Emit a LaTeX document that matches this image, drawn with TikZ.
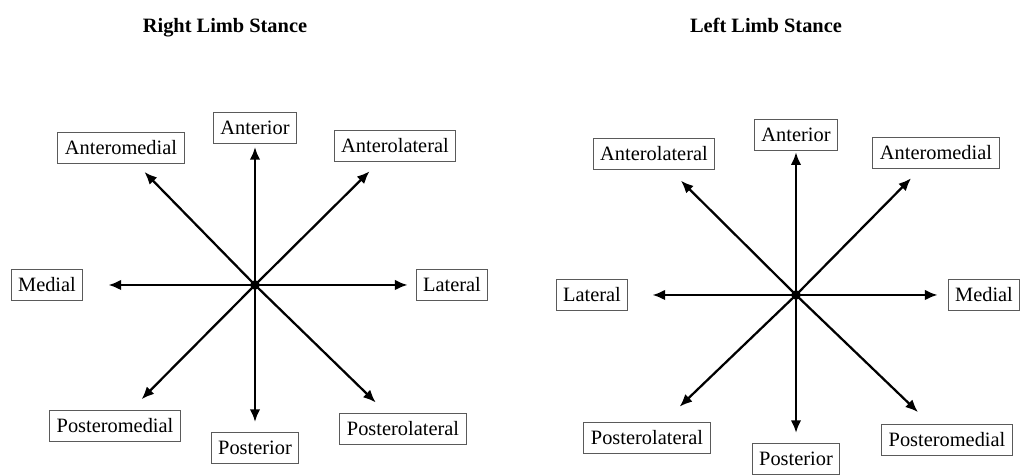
\documentclass[tikz,border=0pt]{standalone}
\usepackage{fontspec}
\setmainfont{Liberation Serif}
\usepackage{tikz}
\usetikzlibrary{arrows.meta}
\definecolor{BoxGrey}{RGB}{90, 90, 90}

\begin{document}
\begin{tikzpicture}[>=Latex,
  lbl/.style={draw=BoxGrey, line width=0.7pt, fill=white, inner xsep=5pt,
              minimum height=0.78cm, font=\fontsize{14.5}{17}\selectfont},
  ttl/.style={anchor=base, font=\fontsize{14.5}{17}\selectfont\bfseries},
  arr/.style={-{Latex[length=9pt,width=7.5pt]}, line width=1.6pt},
  hub/.style={circle, fill=black, inner sep=0pt, minimum size=2.4mm}]

  \useasboundingbox (0,0) rectangle (25.525,11.9);

  % right limb stance
  \node[ttl] (rtitle) at (5.625,11.075) {Right Limb Stance};
  \node[hub] (rc) at (6.375,4.775) {};
  \node[lbl] (rant)     at (6.375,8.70)  {Anterior};
  \node[lbl] (rantmed)  at (3.025,8.20)  {Anteromedial};
  \node[lbl] (rantlat)  at (9.875,8.25)  {Anterolateral};
  \node[lbl] (rmed)     at (1.175,4.775) {Medial};
  \node[lbl] (rlat)     at (11.30,4.775) {Lateral};
  \node[lbl] (rpostmed) at (2.875,1.25)  {Posteromedial};
  \node[lbl] (rpost)    at (6.375,0.70)  {Posterior};
  \node[lbl] (rpostlat) at (10.075,1.175){Posterolateral};
  \foreach \n/\s in {ant/0.075, post/0.25, med/0.625, lat/0.2,
                     antmed/0.275, antlat/0.325, postmed/0.375, postlat/0.375}
    \draw[arr, shorten >=\s cm] (rc.center) -- (r\n);

  % left limb stance
  \node[ttl] (ltitle) at (19.15,11.075) {Left Limb Stance};
  \node[hub] (lc) at (19.90,4.525) {};
  \node[lbl] (lant)     at (19.90,8.525) {Anterior};
  \node[lbl] (lantlat)  at (16.35,8.05)  {Anterolateral};
  \node[lbl] (lantmed)  at (23.40,8.075) {Anteromedial};
  \node[lbl] (llat)     at (14.80,4.525) {Lateral};
  \node[lbl] (lmed)     at (24.60,4.525) {Medial};
  \node[lbl] (lpostlat) at (16.175,0.95) {Posterolateral};
  \node[lbl] (lpost)    at (19.90,0.425) {Posterior};
  \node[lbl] (lpostmed) at (23.675,0.90) {Posteromedial};
  \foreach \n/\s in {ant/0.03, post/0.25, lat/0.6, med/0.25,
                     antlat/0.375, antmed/0.325, postlat/0.55, postmed/0.425}
    \draw[arr, shorten >=\s cm] (lc.center) -- (l\n);
\end{tikzpicture}
\end{document}
